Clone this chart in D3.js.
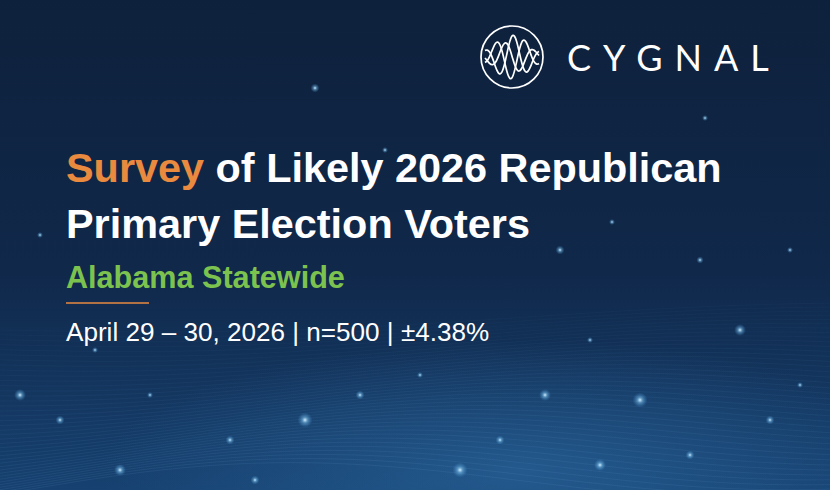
<!DOCTYPE html>
<html><head><meta charset="utf-8">
<script src="https://cdn.jsdelivr.net/npm/d3@7"></script>
<style>html,body{margin:0;padding:0;background:#0d1f38;overflow:hidden}</style>
</head><body><div id="chart"></div>
<script>
// Title slide content
var TITLE_LINES = [['Survey', ' of Likely 2026 Republican'], ['', 'Primary Election Voters']];
var SUBTITLE = 'Alabama Statewide';
var DETAILS = 'April 29 \u2013 30, 2026 | n=500 | \u00b14.38%';
var BRAND = 'CYGNAL';
// decorative stars [x, y, radius]
var STARS = [[315,88,1.5],[385,150,1],[560,250,1.5],[612,222,1],[700,260,1.2],[740,330,2],[640,400,2.5],[545,395,2],
  [500,440,1.5],[460,470,2.5],[305,420,2.5],[230,440,1.5],[120,470,2],[60,420,1.5],[20,395,2],[40,235,1],
  [770,420,1.5],[800,385,1],[690,455,1.5],[590,340,1],[360,395,1.5],[420,375,1],[150,395,1],[255,480,1.5],
  [705,118,1],[790,250,1],[600,465,2],[95,350,1]];
var WAVE_COUNT = 40;

var W = 830, H = 490;
var svg = d3.select('#chart').append('svg').attr('width', W).attr('height', H);
var defs = svg.append('defs');
var bg = defs.append('linearGradient').attr('id', 'bg').attr('x1', 0).attr('y1', 0).attr('x2', 0).attr('y2', 1);
bg.append('stop').attr('offset', '0%').attr('stop-color', '#0e213c');
bg.append('stop').attr('offset', '55%').attr('stop-color', '#10284a');
bg.append('stop').attr('offset', '100%').attr('stop-color', '#164170');
svg.append('rect').attr('width', W).attr('height', H).attr('fill', 'url(#bg)');

var glow = defs.append('radialGradient').attr('id', 'glow');
glow.append('stop').attr('offset', '0%').attr('stop-color', '#2f6fa8').attr('stop-opacity', 0.55);
glow.append('stop').attr('offset', '100%').attr('stop-color', '#2f6fa8').attr('stop-opacity', 0);
svg.append('ellipse').attr('cx', 520).attr('cy', 470).attr('rx', 420).attr('ry', 130).attr('fill', 'url(#glow)');

// wave lines
var x = d3.scaleLinear().domain([0, 1]).range([0, W]);
var line = d3.line().curve(d3.curveBasis);
var waves = svg.append('g').attr('fill', 'none').attr('stroke', '#6ea4d6');
d3.range(WAVE_COUNT).forEach(function (i) {
  var base = 330 + i * 4.2;
  var pts = d3.range(0, 1.01, 0.05).map(function (t) {
    return [x(t), base + 18 * Math.sin(t * 5 + i * 0.08) * (0.4 + i / WAVE_COUNT) - 20 * t];
  });
  waves.append('path').attr('d', line(pts)).attr('stroke-opacity', 0.05 + 0.12 * i / WAVE_COUNT).attr('stroke-width', 0.7);
});

var sg = defs.append('radialGradient').attr('id', 'star');
sg.append('stop').attr('offset', '0%').attr('stop-color', '#d8f0ff').attr('stop-opacity', 1);
sg.append('stop').attr('offset', '40%').attr('stop-color', '#7fc4f0').attr('stop-opacity', 0.5);
sg.append('stop').attr('offset', '100%').attr('stop-color', '#4a9ad8').attr('stop-opacity', 0);
svg.append('g').selectAll('circle').data(STARS).join('circle')
  .attr('cx', function (d) { return d[0]; }).attr('cy', function (d) { return d[1]; })
  .attr('r', function (d) { return d[2] * 3; }).attr('fill', 'url(#star)');

// logo
var logo = svg.append('g').attr('transform', 'translate(512,57)').attr('fill', 'none').attr('stroke', '#fff').attr('stroke-width', 1.7);
logo.append('circle').attr('r', 31);
var lx = d3.scaleLinear().domain([0, 1]).range([-27, 27]);
[[1, 0], [-1, 0.6], [0.7, 1.8]].forEach(function (p) {
  var pts = d3.range(0, 1.001, 0.02).map(function (t) {
    var env = Math.exp(-Math.pow((t - 0.5) * 2.2, 2));
    return [lx(t), -p[0] * 22 * env * Math.cos(t * 12 + p[1])];
  });
  logo.append('path').attr('d', line(pts));
});
svg.append('text').attr('x', 567).attr('y', 71).attr('fill', '#fff')
  .attr('font-family', 'Lato, "Open Sans", sans-serif').attr('font-weight', 400).attr('font-size', 36)
  .attr('letter-spacing', 12).text(BRAND);

// title
var font = 'Arial, "Liberation Sans", Helvetica, sans-serif';
TITLE_LINES.forEach(function (l, i) {
  var t = svg.append('text').attr('x', 66).attr('y', 182 + i * 56).attr('font-family', font)
    .attr('font-weight', 700).attr('font-size', 41.4).attr('fill', '#fff');
  if (l[0]) t.append('tspan').attr('fill', '#e98a3f').text(l[0]);
  t.append('tspan').text(l[1]);
});
svg.append('text').attr('x', 66).attr('y', 288).attr('font-family', font).attr('font-weight', 700)
  .attr('font-size', 30.6).attr('fill', '#7cc24f').text(SUBTITLE);
svg.append('line').attr('x1', 66).attr('x2', 149).attr('y1', 303).attr('y2', 303).attr('stroke', '#e98a3f').attr('stroke-width', 1.5);
svg.append('text').attr('x', 66).attr('y', 341).attr('font-family', font).attr('font-size', 26.1)
  .attr('fill', '#fff').text(DETAILS);
</script></body></html>
